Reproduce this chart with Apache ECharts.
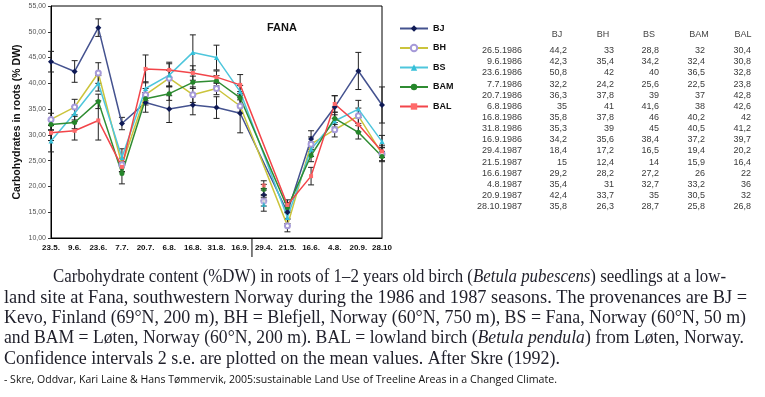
<!DOCTYPE html>
<html><head><meta charset="utf-8">
<script src="https://cdn.jsdelivr.net/npm/echarts@6/dist/echarts.min.js"></script>
<style>html,body{margin:0;padding:0;background:#fff}#c{width:765px;height:397px}</style>
</head><body><div id="c"></div>
<script>
// ---------- DATA ----------
const categories = ['23.5.','9.6.','23.6.','7.7.','20.7.','6.8.','16.8.','31.8.','16.9.','29.4.','21.5.','16.6.','4.8.','20.9.','28.10'];
const tableDates = ['26.5.1986','9.6.1986','23.6.1986','7.7.1986','20.7.1986','6.8.1986','16.8.1986','31.8.1986','16.9.1986','29.4.1987','21.5.1987','16.6.1987','4.8.1987','20.9.1987','28.10.1987'];
const seriesNames = ['BJ','BH','BS','BAM','BAL'];
const BJ  = [44.2,42.3,50.8,32.2,36.3,35,35.8,35.3,34.2,18.4,15,29.2,35.4,42.4,35.8];
const BH  = [33,35.4,42,24.2,37.8,41,37.8,39,35.6,17.2,12.4,28.2,31,33.7,26.3];
const BS  = [28.8,34.2,40,25.6,39,41.6,46,45,38.4,16.5,14,27.2,32.7,35,28.7];
const BAM = [32,32.4,36.5,22.5,37,38,40.2,40.5,37.2,19.4,15.9,26,33.2,30.5,25.8];
const BAL = [30.4,30.8,32.8,23.8,42.8,42.6,42,41.2,39.7,20.2,16.4,22,36,32,26.8];
// half-width of the 2 s.e. confidence intervals
const errBJ  = [2.0,2.1,1.7,1.2,1.9,2.6,1.9,2.1,3.8,1.2,1.2,1.6,2.2,3.6,3.5];
const errBH  = [1.2,1.5,2.0,1.3,1.2,1.5,1.5,1.2,1.2,1.0,1.2,1.4,1.4,1.5,1.3];
const errBS  = [2.1,1.3,1.5,1.7,1.3,2.2,3.4,2.4,1.2,1.3,1.2,1.4,1.2,1.7,1.2];
const errBAM = [1.0,1.2,1.4,2.0,1.2,1.3,1.2,1.0,1.2,1.0,1.0,1.2,1.2,1.3,1.0];
const errBAL = [1.5,1.8,3.8,1.0,2.7,1.5,1.4,1.2,2.0,0.9,1.0,1.7,1.6,1.4,1.2];
const seasonBreak = 9; // first 1987 sampling, not joined by the lines
const yMin = 10, yMax = 55, yStep = 5;
const chartTitle = 'FANA';
const yTitle = 'Carbohydrates in roots (% DW)';
const captionLines = [
  [['Carbohydrate content (%DW) in roots of 1\u20132 years old birch (',0],['Betula pubescens',1],[') seedlings at a low-',0]],
  [['land site at Fana, southwestern Norway during the 1986 and 1987 seasons. The provenances are BJ =',0]],
  [['Kevo, Finland (69\u00b0N, 200 m), BH = Blefjell, Norway (60\u00b0N, 750 m), BS = Fana, Norway (60\u00b0N, 50 m)',0]],
  [['and BAM = L\u00f8ten, Norway (60\u00b0N, 200 m). BAL = lowland birch (',0],['Betula pendula',1],[') from L\u00f8ten, Norway.',0]],
  [['Confidence intervals 2 s.e. are plotted on the mean values. After Skre (1992).',0]]
];
const sourceParts = ['- Skre, Oddvar, Kari Laine & Hans T\u00f8mmervik, 2005:sustainable Land Use', 'of Treeline Areas in a Changed Climate.'];

// ---------- STYLE ----------
const values = [BJ,BH,BS,BAM,BAL];
const errs = [errBJ,errBH,errBS,errBAM,errBAL];
const lineColors = ['#44528f','#cbc43c','#4ec6dc','#2f8c32','#f2454a'];
const markColors = ['#0f1a55','#a69ad8','#35bfd8','#25862a','#ff6a6a'];
const symbols = ['diamond','emptyCircle','triangle','circle','rect'];
const symSizes = [6,5,5,5,4];

const fmtComma = v => String(v).replace('.', ',');

const series = [];
values.forEach((arr, si) => {
  series.push({
    type:'custom', name: seriesNames[si]+'-ci', silent:true, z:1,
    encode:{x:0,y:[1,2]},
    data: arr.map((v,i)=>[i, v-errs[si][i], v+errs[si][i]]),
    renderItem:(params, api)=>{
      const x = api.value(0);
      const p1 = api.coord([x, api.value(1)]), p2 = api.coord([x, api.value(2)]);
      const w = 3, st = {stroke:'#222', lineWidth:1};
      return {type:'group', children:[
        {type:'line', shape:{x1:p1[0],y1:p1[1],x2:p2[0],y2:p2[1]}, style:st},
        {type:'line', shape:{x1:p1[0]-w,y1:p1[1],x2:p1[0]+w,y2:p1[1]}, style:st},
        {type:'line', shape:{x1:p2[0]-w,y1:p2[1],x2:p2[0]+w,y2:p2[1]}, style:st}
      ]};
    }
  });
});
values.forEach((arr, si) => {
  series.push({
    type:'line', name: seriesNames[si], z:3,
    data: arr.map((v,i)=> i===seasonBreak ? null : v),
    connectNulls:true,
    symbol: symbols[si], symbolSize: symSizes[si], showSymbol:true,
    lineStyle:{color: lineColors[si], width:1.5},
    itemStyle:{color: markColors[si], borderColor: markColors[si], borderWidth: si===1?1.3:0},
    emphasis:{disabled:true}, animation:false
  });
  series.push({
    type:'scatter', name: seriesNames[si]+'-1987', z:4,
    data: arr.map((v,i)=> i===seasonBreak ? v : '-'),
    symbol: symbols[si], symbolSize: symSizes[si],
    itemStyle:{color: markColors[si], borderColor: markColors[si], borderWidth: si===1?1.3:0},
    emphasis:{disabled:true}, animation:false
  });
});

const chart = echarts.init(document.getElementById('c'), null, {renderer:'canvas'});
const option = {
  animation:false,
  backgroundColor:'#fff',
  title:{text:chartTitle, left:267, top:22, padding:0, textStyle:{fontFamily:'Arial, "Liberation Sans"', fontSize:11, fontWeight:'bold', color:'#111'}},
  legend:{
    data: seriesNames, orient:'vertical', left:399, top:24, padding:0,
    itemWidth:28, itemHeight:8, itemGap:10.5,
    textStyle:{fontFamily:'Arial, "Liberation Sans"', fontSize:9, fontWeight:'bold', color:'#111'}
  },
  grid:{left:51, right:383, top:6, bottom:159, show:true, borderColor:'#000', borderWidth:1, containLabel:false, outerBoundsMode:'none'},
  xAxis:{
    type:'category', data: categories, boundaryGap:false,
    axisLine:{show:true, lineStyle:{color:'#000', width:1}},
    axisTick:{show:false}, splitLine:{show:false},
    axisLabel:{interval:0, margin:6, fontSize:8, fontWeight:'bold', color:'#111', fontFamily:'"Liberation Sans Narrow", Arial, "Liberation Sans"'}
  },
  yAxis:{
    type:'value', min:yMin, max:yMax, interval:yStep,
    name: yTitle, nameLocation:'middle', nameGap:28,
    nameTextStyle:{fontFamily:'Arial, "Liberation Sans"', fontSize:10.5, fontWeight:'bold', color:'#111'},
    axisLine:{show:true, lineStyle:{color:'#000', width:1}},
    axisTick:{show:true, length:3, lineStyle:{color:'#333'}},
    splitLine:{show:false},
    axisLabel:{margin:5, fontSize:7, color:'#555', fontFamily:'Arial, "Liberation Sans"', formatter: v => v.toFixed(2).replace('.', ',')}
  },
  series
};
chart.setOption(option);

// ---------- extra graphics: season separator, table, caption ----------
const gfx = [];
const xa = chart.convertToPixel({xAxisIndex:0}, seasonBreak-1);
const xb = chart.convertToPixel({xAxisIndex:0}, seasonBreak);
const yBot = chart.convertToPixel({yAxisIndex:0}, yMin);
gfx.push({type:'line', shape:{x1:(xa+xb)/2, y1:yBot, x2:(xa+xb)/2, y2:yBot+19}, style:{stroke:'#000', lineWidth:1}});

// table
const tblFont = {fontFamily:'Arial, "Liberation Sans"', fontSize:9};
const colRight = [567,614,659,705,751];
const colHeadCenter = [557,603,649,699,743];
const rowY0 = 50.7, rowStep = 11.14, headY = 35, dateRight = 522;
seriesNames.forEach((n,ci)=>{
  gfx.push({type:'text', x:colHeadCenter[ci], y:headY, style:Object.assign({text:n, fill:'#444', align:'center', verticalAlign:'middle'}, tblFont)});
});
tableDates.forEach((d,ri)=>{
  const y = rowY0 + ri*rowStep;
  gfx.push({type:'text', x:dateRight, y, style:Object.assign({text:d, fill:'#3a3a3a', align:'right', verticalAlign:'middle'}, tblFont)});
  values.forEach((arr,ci)=>{
    gfx.push({type:'text', x:colRight[ci], y, style:Object.assign({text:fmtComma(arr[ri]), fill:'#3a3a3a', align:'right', verticalAlign:'middle'}, tblFont)});
  });
});

// caption (each line fitted to its justified width, serif)
const ctx = document.createElement('canvas').getContext('2d');
const capSize = 19, capFamily = '"Liberation Serif", "DejaVu Serif", serif';
function measure(t, italic){ ctx.font = (italic?'italic ':'') + capSize + 'px ' + capFamily; return ctx.measureText(t).width; }
function toWords(segs){
  const words=[]; let cur=[];
  segs.forEach(([t,it])=>{
    t.split(' ').forEach((p,k)=>{
      if(k>0){ if(cur.length) words.push(cur); cur=[]; }
      if(p) cur.push([p,it]);
    });
  });
  if(cur.length) words.push(cur);
  return words;
}
const capLeft  = [53,4,4,4,4];
const capRight = [726,747,746,744,560];
const capY     = [277,298,318,338,359];
const spaceW = measure(' ',0);
captionLines.forEach((segs, li)=>{
  const words = toWords(segs);
  const nat = words.map(w=>w.reduce((a,p)=>a+measure(p[0],p[1]),0));
  const natTotal = nat.reduce((a,b)=>a+b,0) + spaceW*(words.length-1);
  const sx = (capRight[li]-capLeft[li]) / natTotal;
  let x = capLeft[li];
  words.forEach((w,wi)=>{
    let px = x;
    w.forEach(([t,it])=>{
      gfx.push({type:'text', x:px, y:capY[li], scaleX:sx, scaleY:1,
        style:{text:t, fontSize:capSize, fontFamily:capFamily, fontStyle: it?'italic':'normal', fill:'#1f1f2a', align:'left', verticalAlign:'middle'}});
      px += measure(t,it)*sx;
    });
    x += (nat[wi] + spaceW)*sx;
  });
});

// source line (condensed sans)
const srcFamily = '"Open Sans", "Noto Sans", sans-serif';
const srcSpecs = [{x0:4, x1:360, size:11}, {x0:363, x1:557, size:10}];
sourceParts.forEach((t,k)=>{
  ctx.font = srcSpecs[k].size + 'px ' + srcFamily;
  const w = ctx.measureText(t).width;
  const s = (srcSpecs[k].x1 - srcSpecs[k].x0)/w;
  gfx.push({type:'text', x:srcSpecs[k].x0, y:380, scaleX:s, scaleY:1,
    style:{text:t, fontSize:srcSpecs[k].size, fontFamily:srcFamily, fill:'#111', align:'left', verticalAlign:'middle'}});
});

chart.setOption({graphic: gfx});
</script>
</body></html>
